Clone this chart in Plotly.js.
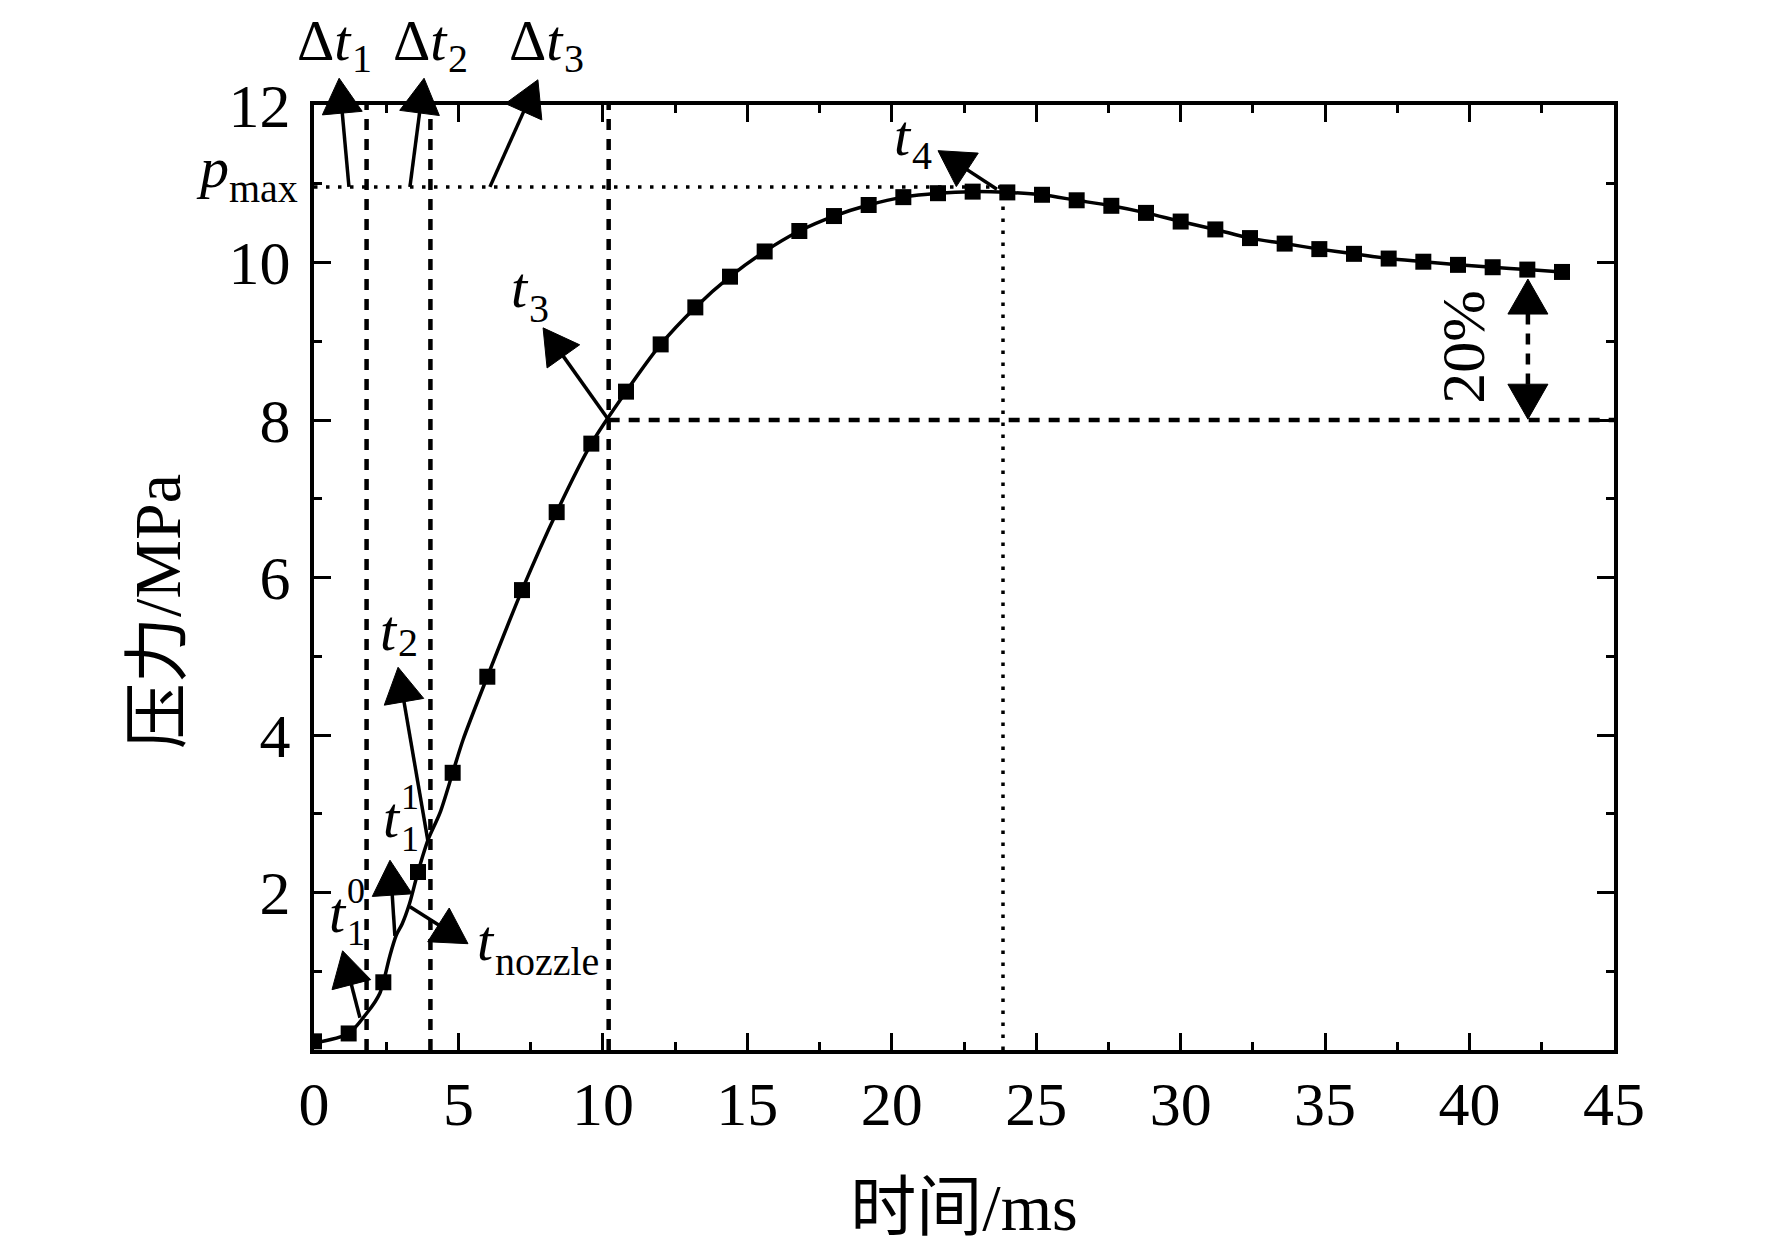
<!DOCTYPE html>
<html>
<head>
<meta charset="utf-8">
<script src="https://cdn.plot.ly/plotly-3.0.1.min.js"></script>
<style>
  html, body { margin: 0; padding: 0; background: #fff; }
  #chart { width: 1772px; height: 1254px; }
</style>
</head>
<body>
<div id="chart"></div>
<script>
// sampled pressure points (square markers)
const markTime = [0, 1.2, 2.4, 3.6, 4.8, 6.0, 7.2, 8.4, 9.6, 10.8, 12.0, 13.2, 14.4, 15.6, 16.8, 18.0,
                  19.2, 20.4, 21.6, 22.8, 24.0, 25.2, 26.4, 27.6, 28.8, 30.0, 31.2, 32.4, 33.6, 34.8,
                  36.0, 37.2, 38.4, 39.6, 40.8, 42.0, 43.2];
const markPressure = [0.11, 0.21, 0.86, 2.26, 3.52, 4.74, 5.84, 6.83, 7.70, 8.36, 8.96, 9.43, 9.82, 10.14,
                      10.40, 10.59, 10.73, 10.83, 10.88, 10.90, 10.89, 10.86, 10.79, 10.72, 10.63, 10.52,
                      10.42, 10.31, 10.24, 10.17, 10.11, 10.05, 10.01, 9.97, 9.94, 9.91, 9.88];

// continuous pressure trace (denser where the curve bends early on)
const curveTime = [0, 1.2, 1.83, 2.11, 2.28, 2.4, 2.63, 2.85, 3.05, 3.3, 3.6, 3.95, 4.36, 4.8, 5.16, 6.0,
                   7.2, 8.4, 9.6, 10.8, 12.0, 13.2, 14.4, 15.6, 16.8, 18.0, 19.2, 20.4, 21.6, 22.8, 24.0,
                   25.2, 26.4, 27.6, 28.8, 30.0, 31.2, 32.4, 33.6, 34.8, 36.0, 37.2, 38.4, 39.6, 40.8,
                   42.0, 43.2];
const curvePressure = [0.09, 0.21, 0.47, 0.61, 0.72, 0.86, 1.20, 1.46, 1.60, 1.85, 2.26, 2.67, 3.01, 3.52,
                       3.94, 4.74, 5.84, 6.83, 7.70, 8.36, 8.96, 9.43, 9.82, 10.14, 10.40, 10.59, 10.73,
                       10.83, 10.88, 10.90, 10.89, 10.86, 10.79, 10.72, 10.63, 10.52, 10.42, 10.31, 10.24,
                       10.17, 10.11, 10.05, 10.01, 9.97, 9.94, 9.91, 9.88];

const xTickVals = [0, 5, 10, 15, 20, 25, 30, 35, 40, 45];
const yTickVals = [2, 4, 6, 8, 10, 12];
const yTickText = ['2', '4', '6', '8', '10', '12'];

// characteristic times and pressures
const tFirst = 1.82;
const tSecond = 4.03;
const tThird = 10.2;
const tPeak = 23.85;
const pMax = 10.96;
const pThird = 8;
const tDrop = 42.02;
const pDropTop = 9.79;

const X_RANGE = [0, 45];
const Y_RANGE = [0, 12];
const MARGIN = { l: 314, r: 158, t: 105, b: 204 };
const PLOT_W = 1772 - MARGIN.l - MARGIN.r;
const PLOT_H = 1254 - MARGIN.t - MARGIN.b;

const FONT = '"Liberation Serif", "Times New Roman", "Noto Sans CJK SC", serif';
const MAIN = 58;
const SMALL = 40;
const STACK = 36;
const HEAD_L = 35;
const HEAD_W = 20;

const data = [
    {
        x: curveTime,
        y: curvePressure,
        type: 'scatter',
        mode: 'lines',
        line: { color: 'black', width: 3.5, shape: 'spline', smoothing: 0.8 },
        hoverinfo: 'skip'
    },
    {
        x: markTime,
        y: markPressure,
        type: 'scatter',
        mode: 'markers',
        marker: { symbol: 'square', size: 16, color: 'black' }
    }
];

function guide(x0, y0, x1, y1, dash, width) {
    return {
        type: 'line', xref: 'x', yref: 'y', x0: x0, y0: y0, x1: x1, y1: y1, layer: 'below',
        line: { color: 'black', width: width, dash: dash }
    };
}

const DASH = '11px,9px';
const DOT = '3.5px,8.5px';
const shapes = [
    guide(tFirst, 0, tFirst, 12, DASH, 4.5),
    guide(tSecond, 0, tSecond, 12, DASH, 4.5),
    guide(tThird, 0, tThird, 12, DASH, 4.5),
    guide(tThird, pThird, 45, pThird, DASH, 4.5),
    guide(0, pMax, tPeak, pMax, DOT, 3.5),
    guide(tPeak, 0, tPeak, pMax, DOT, 3.5),
    guide(tDrop, pThird + 0.45, tDrop, pDropTop - 0.44, DASH, 4.5)
];

// data -> plot pixels (y up), then to paper fractions so arrow heads may leave the frame
function toPx(x, y) {
    return [(x - X_RANGE[0]) / (X_RANGE[1] - X_RANGE[0]) * PLOT_W,
            (y - Y_RANGE[0]) / (Y_RANGE[1] - Y_RANGE[0]) * PLOT_H];
}
function paper(p) {
    return (p[0] / PLOT_W).toFixed(5) + ',' + (p[1] / PLOT_H).toFixed(5);
}

// filled triangle head at tip, straight shaft back to tail
function addArrow(tip, tail, withShaft) {
    const T = toPx(tip[0], tip[1]);
    const S = toPx(tail[0], tail[1]);
    const dx = T[0] - S[0], dy = T[1] - S[1];
    const len = Math.hypot(dx, dy);
    const ux = dx / len, uy = dy / len;
    const B = [T[0] - HEAD_L * ux, T[1] - HEAD_L * uy];
    const L = [B[0] - HEAD_W * uy, B[1] + HEAD_W * ux];
    const R = [B[0] + HEAD_W * uy, B[1] - HEAD_W * ux];
    if (withShaft) {
        const E = [B[0] + 4 * ux, B[1] + 4 * uy];
        shapes.push({
            type: 'line', xref: 'paper', yref: 'paper',
            x0: S[0] / PLOT_W, y0: S[1] / PLOT_H, x1: E[0] / PLOT_W, y1: E[1] / PLOT_H,
            line: { color: 'black', width: 3.5 }
        });
    }
    shapes.push({
        type: 'path', xref: 'paper', yref: 'paper',
        path: 'M' + paper(T) + 'L' + paper(L) + 'L' + paper(R) + 'Z',
        fillcolor: 'black', line: { color: 'black', width: 1 }
    });
}

addArrow([0.87, 12.34], [1.21, pMax], true);
addArrow([3.81, 12.34], [3.32, pMax], true);
addArrow([7.75, 12.32], [6.09, pMax], true);
addArrow([21.6, 11.42], [23.64, 10.93], true);
addArrow([7.93, 9.17], [tThird, pThird], true);
addArrow([2.91, 4.86], [3.95, 2.64], true);
addArrow([2.63, 2.41], [2.8, 1.45], true);
addArrow([5.33, 1.35], [3.32, 1.82], true);
addArrow([0.99, 1.26], [1.59, 0.41], true);
addArrow([tDrop, pDropTop], [tDrop, pThird], false);
addArrow([tDrop, pThird + 0.01], [tDrop, pDropTop], false);

function text(t, x, y, size, opts) {
    return Object.assign({
        x: x, y: y, xref: 'x', yref: 'y', text: t, showarrow: false,
        xanchor: 'center', yanchor: 'middle', borderpad: 0, borderwidth: 0,
        font: { family: FONT, size: size, color: 'black' }
    }, opts || {});
}

// symbol with subscript (and optional superscript) joined at x
function symbol(main, sub, sup, x, y, subShift, opts) {
    const out = [text(main, x, y, MAIN, Object.assign({ xanchor: 'right' }, opts))];
    if (sup) {
        out.push(text(sup, x, y, STACK, Object.assign({ xanchor: 'left', yshift: 21 }, opts)));
        out.push(text(sub, x, y, STACK, Object.assign({ xanchor: 'left', yshift: -21 }, opts)));
    } else {
        out.push(text(sub, x, y, SMALL, Object.assign({ xanchor: 'left', yshift: subShift }, opts)));
    }
    return out;
}

const annotations = [].concat(
    symbol('Δ<i>t</i>', '1', null, 1.30, 1.0684, -18, { yref: 'paper' }),
    symbol('Δ<i>t</i>', '2', null, 4.65, 1.0684, -18, { yref: 'paper' }),
    symbol('Δ<i>t</i>', '3', null, 8.67, 1.0684, -18, { yref: 'paper' }),
    symbol('<i>p</i>', 'max', null, -0.0654, 11.21, -21, { xref: 'paper' }),
    symbol('<i>t</i>', '4', null, 20.7, 11.61, -20),
    symbol('<i>t</i>', '3', null, 7.44, 9.68, -21),
    symbol('<i>t</i>', '2', null, 2.91, 5.33, -12),
    symbol('<i>t</i>', '1', '1', 3.01, 2.95, -19),
    symbol('<i>t</i>', '1', '0', 1.14, 1.75, -17),
    symbol('<i>t</i>', 'nozzle', null, 6.27, 1.39, -21),
    [
        text('20%', 39.77, 8.93, 62, { textangle: -90 }),
        text('压力/MPa', -0.12, 0.4635, 66, { xref: 'paper', yref: 'paper', textangle: -90 })
    ]
);

const axisCommon = {
    showgrid: false,
    zeroline: false,
    showline: true,
    linewidth: 4,
    linecolor: 'black',
    mirror: 'ticks',
    ticks: 'inside',
    ticklen: 17,
    tickwidth: 3,
    tickcolor: 'black',
    tickfont: { family: FONT, size: 62, color: 'black' }
};

const layout = {
    width: 1772,
    height: 1254,
    margin: MARGIN,
    paper_bgcolor: 'white',
    plot_bgcolor: 'white',
    showlegend: false,
    font: { family: FONT, size: MAIN, color: 'black' },
    xaxis: Object.assign({}, axisCommon, {
        range: X_RANGE,
        tickmode: 'array',
        tickvals: xTickVals,
        ticklabelstandoff: -3,
        minor: { tickmode: 'linear', tick0: 0, dtick: 2.5, ticks: 'inside', ticklen: 8, tickwidth: 3, tickcolor: 'black', showgrid: false },
        title: { text: '时间/ms', font: { family: FONT, size: 66, color: 'black' }, standoff: 47 }
    }),
    yaxis: Object.assign({}, axisCommon, {
        range: Y_RANGE,
        tickmode: 'array',
        tickvals: yTickVals,
        ticktext: yTickText,
        ticklabelstandoff: 7,
        minor: { tickmode: 'linear', tick0: 0, dtick: 1, ticks: 'inside', ticklen: 8, tickwidth: 3, tickcolor: 'black', showgrid: false }
    }),
    shapes: shapes,
    annotations: annotations
};

Plotly.newPlot('chart', data, layout, { staticPlot: true });
</script>
</body>
</html>
